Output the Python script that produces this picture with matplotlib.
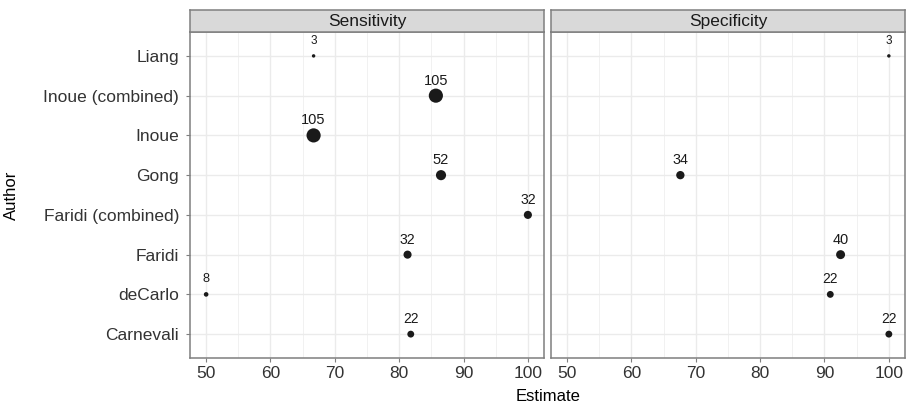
import numpy as np
import matplotlib.pyplot as plt
from matplotlib.ticker import MultipleLocator

authors = ["Carnevali", "deCarlo", "Faridi", "Faridi (combined)", "Gong",
           "Inoue", "Inoue (combined)", "Liang"]

# Sensitivity facet
sens_author = ["Liang", "Inoue (combined)", "Inoue", "Gong", "Faridi (combined)",
               "Faridi", "deCarlo", "Carnevali"]
sens_est = [66.7, 85.7, 66.7, 86.5, 100.0, 81.3, 50.0, 81.8]
sens_n = [3, 105, 105, 52, 32, 32, 8, 22]

# Specificity facet
spec_author = ["Liang", "Gong", "Faridi", "deCarlo", "Carnevali"]
spec_est = [100.0, 67.6, 92.5, 90.9, 100.0]
spec_n = [3, 34, 40, 22, 22]

xticks = [50, 60, 70, 80, 90, 100]

plt.rcParams["font.family"] = "Liberation Sans"
fig = plt.figure(figsize=(9.15, 4.11), dpi=100)

border = "#7F7F7F"
grid_c = "#EBEBEB"
tick_c = "#333333"

def draw_panel(rect, title, who, est, n, show_y):
    ax = fig.add_axes(rect)
    ax.set_xlim(47.5, 102.5)
    ax.set_ylim(-0.6, len(authors) - 1 + 0.6)
    ax.set_xticks(xticks)
    ax.xaxis.set_minor_locator(MultipleLocator(5))
    ax.set_yticks(range(len(authors)))
    ax.set_yticklabels(authors if show_y else [])
    ax.grid(True, which="major", color=grid_c, lw=1.0, zorder=0)
    ax.grid(True, which="minor", axis="x", color=grid_c, lw=0.5, zorder=0)
    ax.set_axisbelow(True)
    for s in ax.spines.values():
        s.set_color(border)
        s.set_linewidth(1.1)
    ax.tick_params(which="major", length=3, color=border, labelsize=12.5,
                   labelcolor=tick_c, width=0.8, pad=3)
    ax.tick_params(axis="y", pad=5)
    ax.tick_params(which="minor", length=0)
    if not show_y:
        ax.tick_params(axis="y", length=0)

    y = np.array([authors.index(a) for a in who])
    n = np.array(n, dtype=float)
    diam_px = np.sqrt(12 + 1.85 * (n - 3))
    s = (diam_px * 0.72) ** 2
    ax.scatter(est, y, s=s, color="#1A1A1A", zorder=3, edgecolors="none")
    for xi, yi, ni in zip(est, y, n):
        fs = 8.5 + 2.0 * min(1.0, np.sqrt((ni - 3) / 40))
        ax.text(xi, yi + 0.38, str(int(ni)), ha="center", va="center",
                fontsize=fs, color="#1A1A1A")

    # facet strip
    sx = fig.add_axes([rect[0], rect[1] + rect[3], rect[2], 0.054])
    sx.set_facecolor("#D9D9D9")
    sx.set_xticks([])
    sx.set_yticks([])
    for sp in sx.spines.values():
        sp.set_color(border)
        sp.set_linewidth(1.1)
    sx.text(0.5, 0.48, title, ha="center", va="center", fontsize=12.5,
            color="#1A1A1A", transform=sx.transAxes)
    return ax

b, h = 0.129, 0.793
draw_panel([0.2077, b, 0.3868, h], "Sensitivity", sens_author, sens_est, sens_n, True)
draw_panel([0.6022, b, 0.3868, h], "Specificity", spec_author, spec_est, spec_n, False)

fig.text(0.5985, 0.035, "Estimate", ha="center", va="center", fontsize=12)
fig.text(0.013, 0.525, "Author", ha="center", va="center", rotation=90, fontsize=12)

fig.savefig("out.png", dpi=100)
